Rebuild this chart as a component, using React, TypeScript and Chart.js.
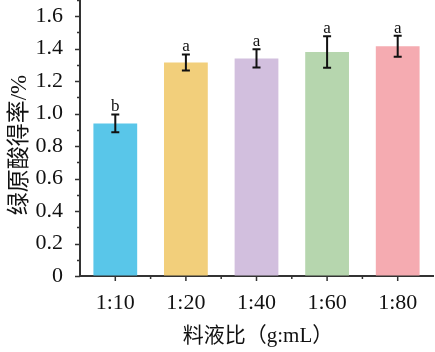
import React, { useEffect, useRef } from "react";
import { Chart, registerables } from "chart.js";

Chart.register(...registerables);

const categories = ["1:10", "1:20", "1:40", "1:60", "1:80"];
const values = [0.94, 1.315, 1.34, 1.38, 1.415];
const errors = [0.055, 0.05, 0.056, 0.097, 0.065];
const letters = ["b", "a", "a", "a", "a"];
const colors = ["#59C6E9", "#F2CF7B", "#D2BFDE", "#B6D6AE", "#F5ABB1"];
const yTicks = [0, 0.2, 0.4, 0.6, 0.8, 1.0, 1.2, 1.4, 1.6];
const yMax = 1.7;
const xTitle = "料液比（g:mL）";
const yTitle = "绿原酸得率/%";

const FONT = '"Liberation Serif", "Times New Roman", "Noto Sans CJK SC", serif';
const AXIS = "#333333";

const overlay = {
  id: "overlay",
  afterDatasetsDraw(chart: any) {
    const ctx = chart.ctx;
    const meta = chart.getDatasetMeta(0);
    const y = chart.scales.y;
    const x = chart.scales.x;
    ctx.save();
    // error bars + letters
    meta.data.forEach((bar: any, i: number) => {
      const cx = bar.x;
      const top = y.getPixelForValue(values[i] + errors[i]);
      const bot = y.getPixelForValue(values[i] - errors[i]);
      ctx.strokeStyle = "#111";
      ctx.lineWidth = 2;
      ctx.beginPath();
      ctx.moveTo(cx, top);
      ctx.lineTo(cx, bot);
      ctx.moveTo(cx - 4, top);
      ctx.lineTo(cx + 4, top);
      ctx.moveTo(cx - 4, bot);
      ctx.lineTo(cx + 4, bot);
      ctx.stroke();
      ctx.fillStyle = "#111";
      ctx.font = `17px ${FONT}`;
      ctx.textAlign = "center";
      ctx.textBaseline = "alphabetic";
      ctx.fillText(letters[i], cx, top - 3);
    });
    // axis ticks
    ctx.strokeStyle = AXIS;
    ctx.lineWidth = 1.5;
    const left = chart.chartArea.left;
    const bottom = chart.chartArea.bottom;
    ctx.beginPath();
    for (let k = 0; k <= Math.round(yMax * 10); k++) {
      const v = k / 10;
      const py = Math.round(y.getPixelForValue(v)) + 0.5;
      const len = k % 2 === 0 ? 5 : 3;
      ctx.moveTo(left, py);
      ctx.lineTo(left - len, py);
    }
    const n = categories.length;
    for (let i = 0; i < n; i++) {
      const px = x.getPixelForValue(i);
      ctx.moveTo(px, bottom);
      ctx.lineTo(px, bottom + 5);
      if (i < n - 1) {
        const mx = (px + x.getPixelForValue(i + 1)) / 2;
        ctx.moveTo(mx, bottom);
        ctx.lineTo(mx, bottom + 3);
      }
    }
    ctx.stroke();
    // titles
    ctx.fillStyle = "#111";
    ctx.textAlign = "center";
    ctx.textBaseline = "middle";
    ctx.font = `21px ${FONT}`;
    ctx.fillText(xTitle, 258, 336);
    ctx.font = `23px ${FONT}`;
    ctx.translate(20, 145);
    ctx.rotate(-Math.PI / 2);
    ctx.fillText(yTitle, 0, 0);
    ctx.restore();
  },
};

export default function App() {
  const ref = useRef<HTMLCanvasElement>(null);
  useEffect(() => {
    if (!ref.current) return;
    const chart = new Chart(ref.current, {
      type: "bar",
      data: {
        labels: categories,
        datasets: [
          {
            data: values,
            backgroundColor: colors,
            borderWidth: 0,
            categoryPercentage: 1,
            barPercentage: 0.62,
          },
        ],
      },
      options: {
        animation: false,
        responsive: false,
        layout: { autoPadding: false, padding: { left: 0, right: 2, top: 0, bottom: 0 } },
        plugins: { legend: { display: false }, tooltip: { enabled: false } },
        scales: {
          x: {
            grid: { display: true, drawOnChartArea: false, drawTicks: false },
            border: { display: true, color: AXIS, width: 2 },
            ticks: {
              color: "#111",
              font: { family: FONT, size: 22 },
              padding: 14,
              maxRotation: 0,
            },
            afterFit: (s: any) => {
              s.height = 76;
              s.paddingLeft = 0;
              s.paddingRight = 0;
            },
          },
          y: {
            min: 0,
            max: yMax,
            grid: { display: true, drawOnChartArea: false, drawTicks: false },
            border: { display: true, color: AXIS, width: 2 },
            afterBuildTicks: (s: any) => {
              s.ticks = yTicks.map((v) => ({ value: v }));
            },
            ticks: {
              color: "#111",
              font: { family: FONT, size: 22 },
              padding: 17,
              callback: (v: any) => (Number(v) === 0 ? "0" : Number(v).toFixed(1)),
            },
            afterFit: (s: any) => {
              s.width = 80;
              s.paddingTop = 0;
              s.paddingBottom = 0;
            },
          },
        },
      },
      plugins: [overlay],
    });
    return () => chart.destroy();
  }, []);
  return (
    <div style={{ position: "fixed", left: 0, top: 0, width: 435, height: 352, background: "#fff" }}>
      <canvas ref={ref} width={435} height={352} />
    </div>
  );
}
